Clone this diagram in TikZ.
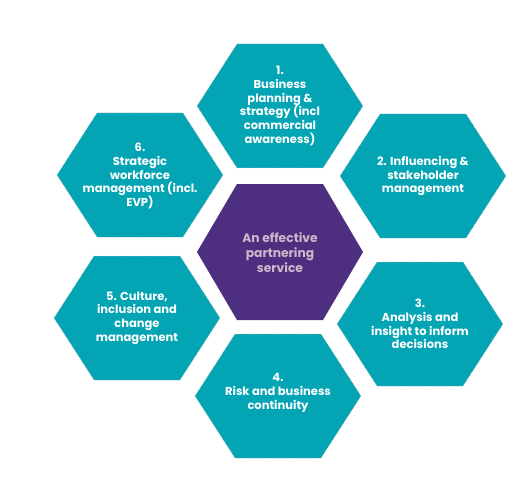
\documentclass[tikz,border=0pt]{standalone}
\usepackage{fontspec}
\setmainfont{Poppins}
\definecolor{tealhex}{HTML}{03A4B4}
\definecolor{purplehex}{HTML}{4E2E7E}
\definecolor{centertext}{HTML}{CBB8CB}
\tikzset{
  hexfill/.style={fill=tealhex, draw=gray!45, densely dotted, line width=0.5pt},
  hexcenter/.style={fill=purplehex},
  hextext/.style={text=white, align=center, font=\fontsize{11.5}{13.7}\selectfont\bfseries, inner sep=0pt},
  centerlabel/.style={text=centertext, align=center, font=\fontsize{12.3}{15}\selectfont\bfseries, inner sep=0pt}
}
\newcommand{\hexpath}[4]{% cx cy halfheight style
  \path[#4] (#1-83,#2) -- (#1-43,#2-#3) -- (#1+43,#2-#3) -- (#1+83,#2) -- (#1+43,#2+#3) -- (#1-43,#2+#3) -- cycle;}
\begin{document}
\begin{tikzpicture}[x=1pt,y=-1pt]
\useasboundingbox (0,0) rectangle (526,478);
\fill[white] (0,0) rectangle (526,478);
\hexpath{280}{106}{62}{hexfill}
\hexpath{140}{175}{62}{hexfill}
\hexpath{423}{176}{62}{hexfill}
\hexpath{280}{252}{68}{hexcenter}
\hexpath{137}{318}{62}{hexfill}
\hexpath{420}{324}{62}{hexfill}
\hexpath{278}{396}{62}{hexfill}
\node[hextext] (h1) at (280,106) {1.\\Business\\planning \&\\strategy (incl\\commercial\\awareness)};
\node[hextext] (h6) at (140,176) {6.\\Strategic\\workforce\\management (incl.\\EVP)};
\node[hextext] (h2) at (423,176) {2. Influencing \&\\stakeholder\\management};
\node[centerlabel] (hc) at (280,253) {An effective\\partnering\\service};
\node[hextext] (h5) at (137,318) {5. Culture,\\inclusion and\\change\\management};
\node[hextext] (h3) at (420,324) {3.\\Analysis and\\insight to inform\\decisions};
\node[hextext] (h4) at (278,393) {4.\\Risk and business\\continuity};
\end{tikzpicture}
\end{document}
